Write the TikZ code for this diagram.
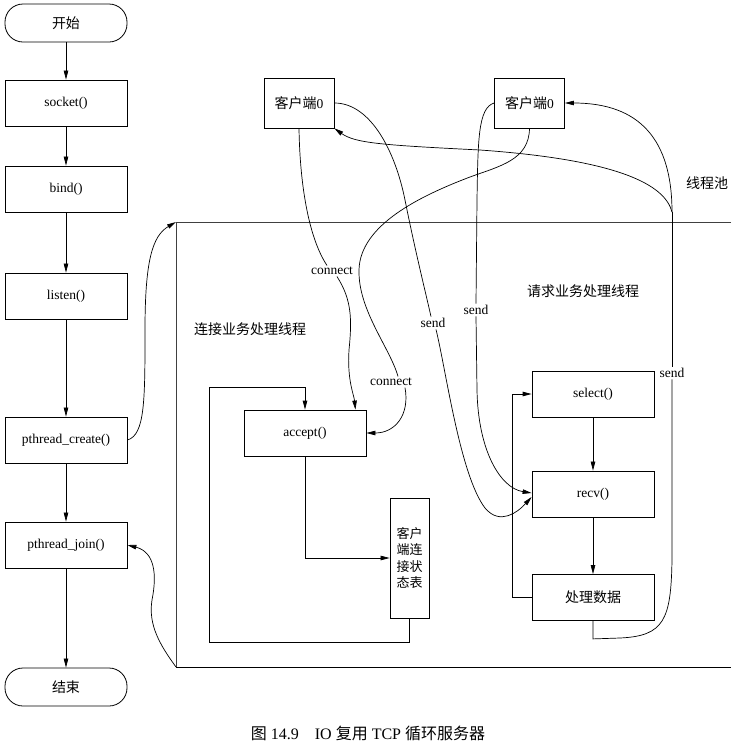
\documentclass[tikz,border=0pt]{standalone}
\usepackage{fontspec}
\setmainfont{Liberation Serif}
\newfontfamily\cjk{Noto Sans CJK SC}
\usetikzlibrary{arrows.meta,calc}
\newcommand\zhtxt[1]{{\cjk\fontsize{14}{17}\selectfont #1}}
\newcommand\zhcap[1]{{\cjk\fontsize{16}{19}\selectfont #1}}
\begin{document}
\begin{tikzpicture}[x=1pt,y=-1pt,
  every node/.style={font=\fontsize{13.5}{16}\selectfont},
  box/.style={draw,line width=0.8pt,minimum width=122pt,minimum height=46pt,inner sep=0pt},
  term/.style={box,minimum height=38pt,rounded corners=18pt},
  cbox/.style={draw,line width=0.8pt,minimum width=70pt,minimum height=50pt,inner sep=0pt},
  lbl/.style={fill=white,inner sep=1.5pt},
  arr/.style={-{Triangle[length=9pt,width=4.5pt]},line width=0.7pt},
  ln/.style={line width=0.7pt},
]
\useasboundingbox (0,0) rectangle (743,745);
% frame of the thread pool
\coordinate (ftl) at (176,222);
\coordinate (fbl) at (176,667);
\coordinate (ftr) at (731,222);
\coordinate (fbr) at (731,667);
\draw[line width=0.6pt,black!75] (ftr) -- (ftl) -- (fbl);
\draw[line width=0.8pt] (fbl) -- (fbr);

% main flow
\node[term] (start) at (66,23) {\zhtxt{开始}};
\node[box] (socket) at (66,103) {socket()};
\node[box] (bind) at (66,189) {bind()};
\node[box] (listen) at (66,296) {listen()};
\node[box] (pcreate) at (66,440) {pthread\_create()};
\node[box] (pjoin) at (66,545) {pthread\_join()};
\node[term] (stop) at (66,687) {\zhtxt{结束}};
\draw[arr] (start) -- (socket);
\draw[arr] (socket) -- (bind);
\draw[arr] (bind) -- (listen);
\draw[arr] (listen) -- (pcreate);
\draw[arr] (pcreate) -- (pjoin);
\draw[arr] (pjoin) -- (stop);
\draw[arr] (pcreate.east) .. controls (145,435) and (145,400) .. (145,330)
  .. controls (145,262) and (152,236) .. (ftl);
\draw[arr] (fbl) .. controls (160,645) and (148,625) .. (152,600)
  .. controls (157,575) and (155,552) .. (pjoin.east);

% clients
\node[cbox] (cl) at (299,103) {\zhtxt{客户端}0};
\node[cbox] (cr) at (529.5,103) {\zhtxt{客户端}0};

% labels
\node (poollbl) at (707,183) {\zhtxt{线程池}};
\node (connlbl) at (250,329) {\zhtxt{连接业务处理线程}};
\node (reqlbl) at (583,291) {\zhtxt{请求业务处理线程}};

% connection thread
\node[box] (accept) at (305,433) {accept()};
\node[draw,line width=0.8pt,minimum width=39pt,minimum height=120pt,inner sep=0pt,
  align=center,font=\cjk\fontsize{13}{16.5}\selectfont] (table) at (409.5,558) {客户\\端连\\接状\\态表};
\coordinate (lp1) at (209,642);
\coordinate (lp2) at (209,387);
\draw[arr] (accept.south) |- (table.west);
\draw[line width=0.8pt,-{Triangle[length=9pt,width=4.5pt]}] (table.south) |- (lp1) -- (lp2) -| (accept.north);

% request thread
\node[box] (select) at (593,394) {select()};
\node[box] (recv) at (593,494) {recv()};
\node[box] (proc) at (593,597.5) {\zhtxt{处理数据}};
\draw[arr] (select) -- (recv);
\draw[arr] (recv) -- (proc);
\draw[line width=0.8pt,-{Triangle[length=9pt,width=4.5pt]}] (proc.west) -- ++(-19,0) |- (select.west);

% connector labels
\node[lbl] (c1) at (332,271) {connect};
\node[lbl] (c2) at (391,382) {connect};
\node[lbl] (s1) at (433,323) {send};
\node[lbl] (s2) at (476,310) {send};
\node[lbl] (s3) at (672,373) {send};

% connect from left client
\draw[ln] (cl.south) .. controls (300,190) and (310,240) .. ($(c1.north)+(-5,0)$);
\draw[arr] ($(c1.south)+(5,0)$) .. controls (352,300) and (352,320) .. (349,350)
  .. controls (347,380) and (354,395) .. ($(accept.north east)+(-11,0)$);
% connect from right client
\draw[ln] (cr.south) .. controls (529,160) and (500,166) .. (470,177)
  .. controls (420,196) and (360,225) .. (359,270)
  .. controls (358,310) and (390,348) .. ($(c2.north)+(7,0)$);
\draw[arr] ($(c2.south)+(14,0)$) .. controls (410,415) and (395,433) .. (accept.east);
% send from left client
\draw[ln] (cl.east) .. controls (370,103) and (395,150) .. (405,200)
  .. controls (415,250) and (425,290) .. ($(s1.north)+(-2,0)$);
\draw[arr] ($(s1.south)+(3,0)$) .. controls (446,370) and (460,475) .. (485,508)
  .. controls (500,526) and (518,512) .. ($(recv.west)+(0,3)$);
% send from right client
\draw[ln] (cr.west) .. controls (478,108) and (478,140) .. (477,200) -- (s2.north);
\draw[arr] (s2.south) -- (477,390) .. controls (478,450) and (500,488) .. ($(recv.west)+(0,-1)$);

% send back to clients
\coordinate (sendj) at (672,212);
\draw[ln] (proc.south) -- ++(0,18) -- (620,638) .. controls (664,636) and (671,620) .. (672,560)
  -- (s3.south);
\draw[ln] (s3.north) -- (sendj);
\draw[arr] (sendj) .. controls (672,140) and (640,103) .. (cr.east);
\draw[arr] (sendj) .. controls (665,185) and (620,160) .. (480,150)
  .. controls (380,145) and (355,143) .. (cl.south east);

% caption
\node[font=\fontsize{16}{19}\selectfont] (cap) at (368,733) {\zhcap{图}~14.9\quad IO~\zhcap{复用}~TCP~\zhcap{循环服务器}};
\end{tikzpicture}
\end{document}
